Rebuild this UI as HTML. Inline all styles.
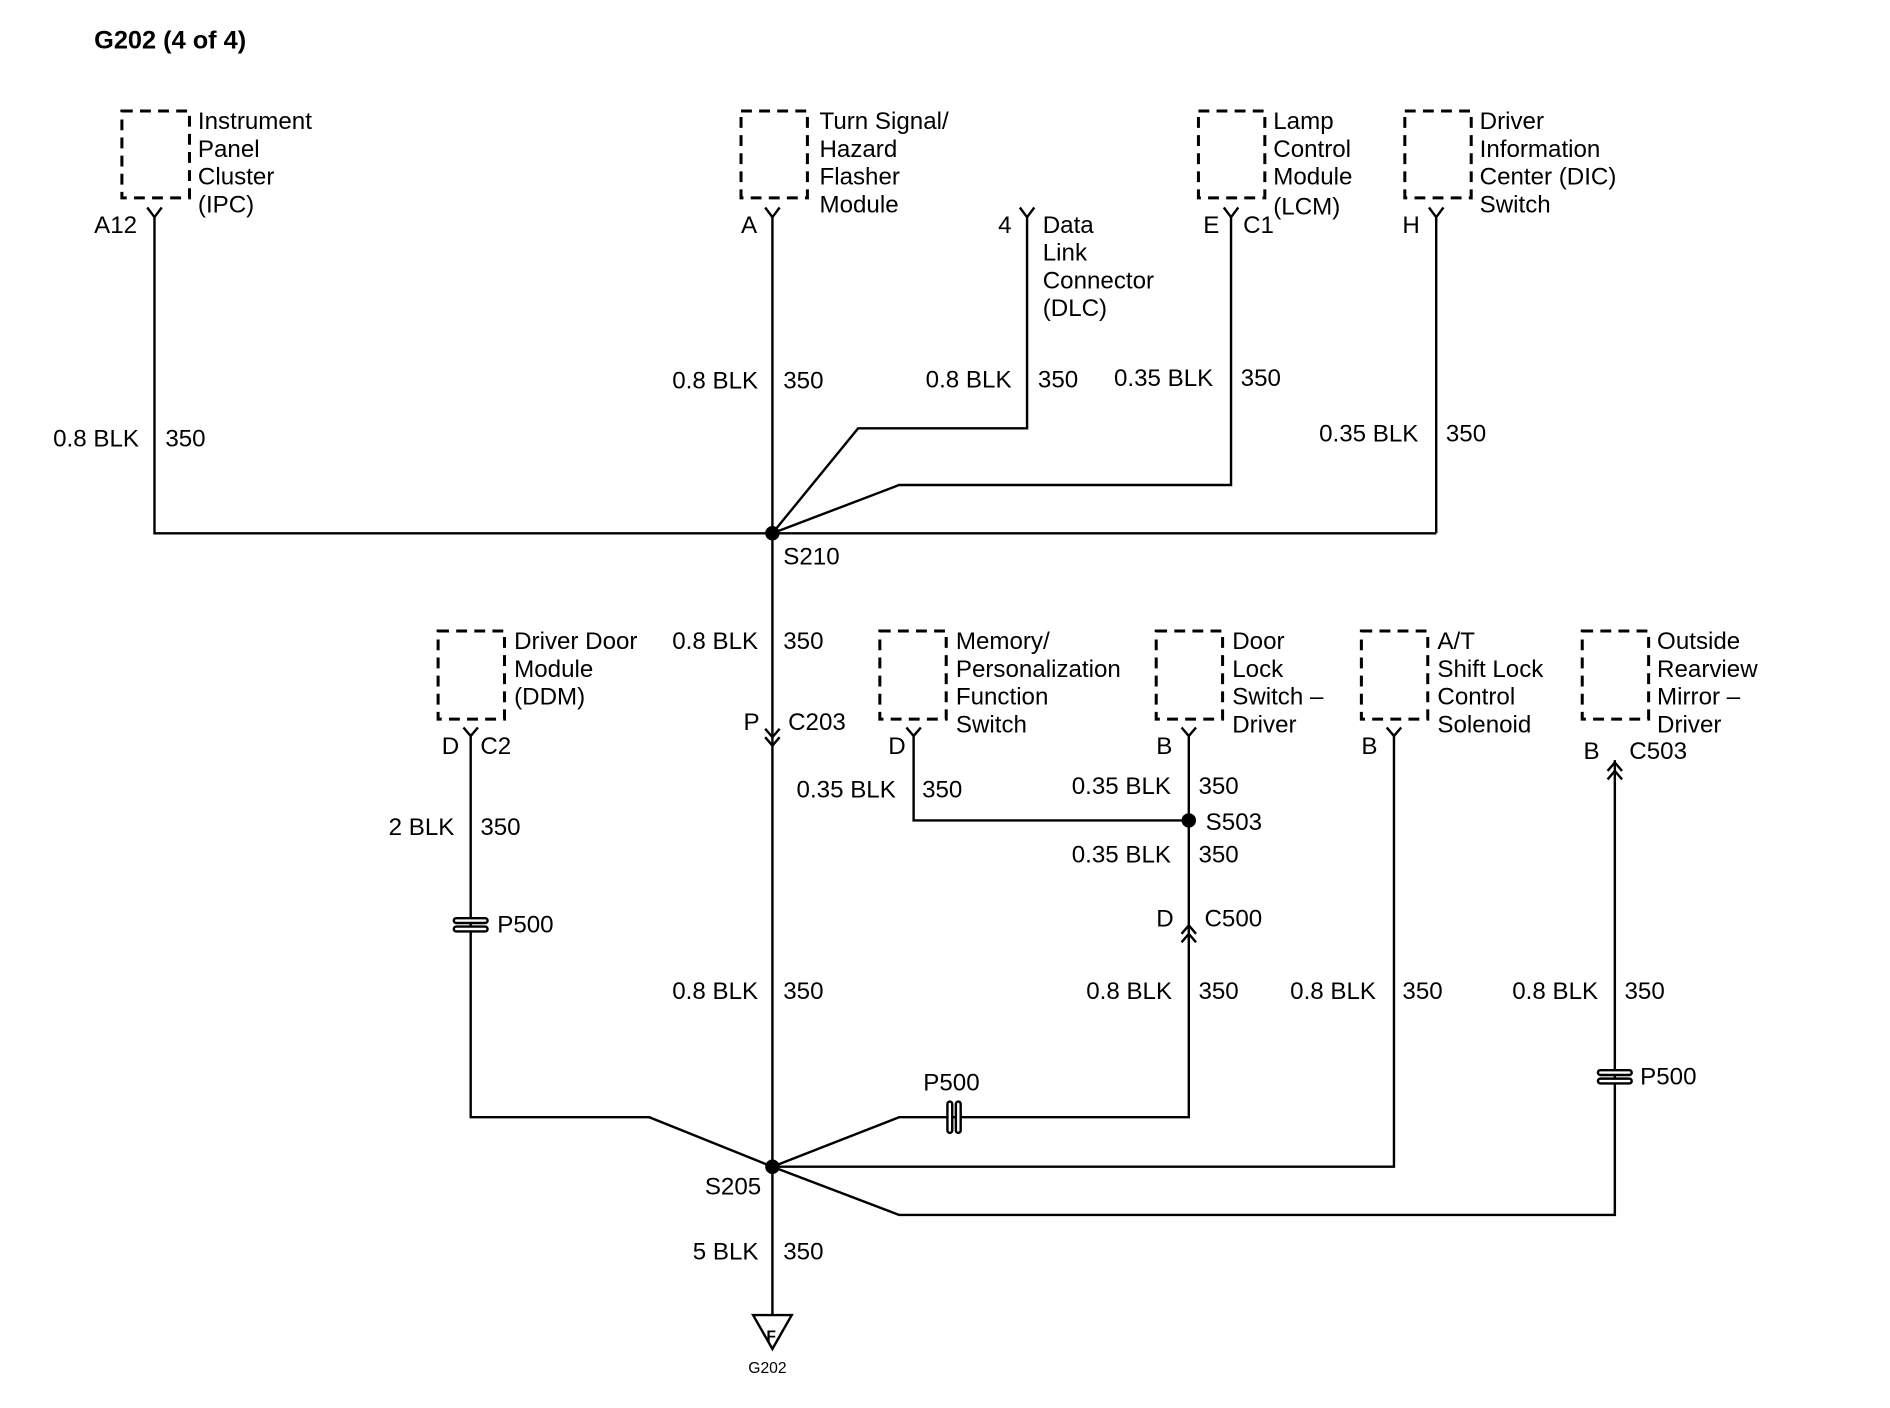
<!DOCTYPE html>
<html><head><meta charset="utf-8"><style>
html,body{margin:0;padding:0;background:#fff;}
svg{display:block;}
text{font-family:"Liberation Sans",Arial,sans-serif;font-size:20px;fill:#000;}
</style></head><body>
<svg width="1890" height="1408" viewBox="0 0 1566 1167" preserveAspectRatio="none" xmlns="http://www.w3.org/2000/svg">
<g fill="none" stroke="#000" stroke-width="2.5" stroke-dasharray="9,6">
<rect x="101" y="92" width="56" height="72"/>
<rect x="614" y="92" width="55" height="72"/>
<rect x="993" y="92" width="55" height="72"/>
<rect x="1164" y="92" width="55" height="72"/>
<rect x="363" y="523" width="55" height="73"/>
<rect x="729" y="523" width="55" height="73"/>
<rect x="958" y="523" width="55" height="73"/>
<rect x="1128" y="523" width="55" height="73"/>
<rect x="1311" y="523" width="55" height="73"/>
</g>
<g fill="none" stroke="#000" stroke-width="2">
<polyline points="128,180 128,442 1190,442"/>
<line x1="640" y1="180" x2="640" y2="1090"/>
<polyline points="851,180 851,355 711,355 640,442"/>
<polyline points="1020,180 1020,402 745,402 640,442"/>
<line x1="1190" y1="180" x2="1190" y2="442"/>
<polyline points="390,610 390,926 538,926 640,967"/>
<polyline points="757,610 757,680 985,680"/>
<polyline points="985,610 985,926 745,926 640,967"/>
<polyline points="1155,610 1155,967 640,967"/>
<polyline points="1338,630 1338,1007 745,1007 640,967"/>
<path d="M122,172 L128,180 L134,172 M634,172 L640,180 L646,172 M845,172 L851,180 L857,172 M1014,172 L1020,180 L1026,172 M1184,172 L1190,180 L1196,172"/>
<path d="M384,603 L390,610 L396,603 M751,603 L757,610 L763,603 M979,603 L985,610 L991,603 M1149,603 L1155,610 L1161,603"/>
<path d="M634,604 L640,611 L646,604 M634,611 L640,618 L646,611"/>
<path d="M979,774 L985,767 L991,774 M979,781 L985,774 L991,781"/>
<path d="M1332,639 L1338,632 L1344,639 M1332,646 L1338,639 L1344,646"/>
<path d="M624,1090 L656,1090 L640,1118 Z"/>
</g>
<g fill="#fff" stroke="#000" stroke-width="2">
<rect x="376" y="761" width="28" height="4" rx="2"/><rect x="376" y="768" width="28" height="4" rx="2"/>
<rect x="1324" y="887" width="28" height="4" rx="2"/><rect x="1324" y="894" width="28" height="4" rx="2"/>
<rect x="785" y="913" width="4" height="26" rx="2"/><rect x="792" y="913" width="4" height="26" rx="2"/>
</g>
<g fill="#000"><circle cx="640" cy="442" r="6"/><circle cx="640" cy="967" r="6"/><circle cx="985" cy="680" r="6"/></g>
<text x="78" y="40" style="font-weight:bold;font-size:21px">G202 (4 of 4)</text>
<text x="164" y="107">Instrument</text><text x="164" y="130">Panel</text><text x="164" y="153">Cluster</text><text x="164" y="176">(IPC)</text>
<text x="78" y="193">A12</text>
<text x="679" y="107">Turn Signal/</text><text x="679" y="130">Hazard</text><text x="679" y="153">Flasher</text><text x="679" y="176">Module</text>
<text x="614" y="193">A</text>
<text x="827" y="193">4</text>
<text x="864" y="193">Data</text><text x="864" y="216">Link</text><text x="864" y="239">Connector</text><text x="864" y="262">(DLC)</text>
<text x="1055" y="107">Lamp</text><text x="1055" y="130">Control</text><text x="1055" y="153">Module</text><text x="1055" y="178">(LCM)</text>
<text x="997" y="193">E</text><text x="1030" y="193">C1</text>
<text x="1226" y="107">Driver</text><text x="1226" y="130">Information</text><text x="1226" y="153">Center (DIC)</text><text x="1226" y="176">Switch</text>
<text x="1162" y="193">H</text>
<text x="557" y="322">0.8 BLK</text><text x="649" y="322">350</text>
<text x="767" y="321">0.8 BLK</text><text x="860" y="321">350</text>
<text x="923" y="320">0.35 BLK</text><text x="1028" y="320">350</text>
<text x="44" y="370">0.8 BLK</text><text x="137" y="370">350</text>
<text x="1093" y="366">0.35 BLK</text><text x="1198" y="366">350</text>
<text x="649" y="468">S210</text>
<text x="557" y="538">0.8 BLK</text><text x="649" y="538">350</text>
<text x="426" y="538">Driver Door</text><text x="426" y="561">Module</text><text x="426" y="584">(DDM)</text>
<text x="366" y="625">D</text><text x="398" y="625">C2</text>
<text x="616" y="605">P</text><text x="653" y="605">C203</text>
<text x="792" y="538">Memory/</text><text x="792" y="561">Personalization</text><text x="792" y="584">Function</text><text x="792" y="607">Switch</text>
<text x="736" y="625">D</text>
<text x="1021" y="538">Door</text><text x="1021" y="561">Lock</text><text x="1021" y="584">Switch –</text><text x="1021" y="607">Driver</text>
<text x="958" y="625">B</text>
<text x="1191" y="538">A/T</text><text x="1191" y="561">Shift Lock</text><text x="1191" y="584">Control</text><text x="1191" y="607">Solenoid</text>
<text x="1128" y="625">B</text>
<text x="1373" y="538">Outside</text><text x="1373" y="561">Rearview</text><text x="1373" y="584">Mirror –</text><text x="1373" y="607">Driver</text>
<text x="1312" y="629">B</text><text x="1350" y="629">C503</text>
<text x="660" y="661">0.35 BLK</text><text x="764" y="661">350</text>
<text x="888" y="658">0.35 BLK</text><text x="993" y="658">350</text>
<text x="999" y="688">S503</text>
<text x="322" y="692">2 BLK</text><text x="398" y="692">350</text>
<text x="888" y="715">0.35 BLK</text><text x="993" y="715">350</text>
<text x="958" y="768">D</text><text x="998" y="768">C500</text>
<text x="412" y="773">P500</text>
<text x="557" y="828">0.8 BLK</text><text x="649" y="828">350</text>
<text x="900" y="828">0.8 BLK</text><text x="993" y="828">350</text>
<text x="1069" y="828">0.8 BLK</text><text x="1162" y="828">350</text>
<text x="1253" y="828">0.8 BLK</text><text x="1346" y="828">350</text>
<text x="1359" y="899">P500</text>
<text x="765" y="904">P500</text>
<text x="584" y="990">S205</text>
<text x="574" y="1044">5 BLK</text><text x="649" y="1044">350</text>
<text x="635" y="1112" style="font-size:13px;font-weight:bold">F</text>
<text x="620" y="1138" style="font-size:13px">G202</text>
</svg>
</body></html>
